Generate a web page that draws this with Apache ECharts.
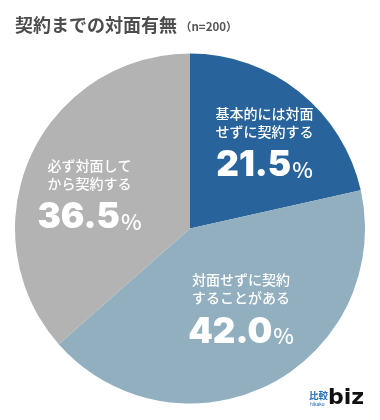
<!DOCTYPE html>
<html><head><meta charset="utf-8">
<script src="https://cdn.jsdelivr.net/npm/echarts@6/dist/echarts.min.js"></script>
<style>html,body{margin:0;padding:0;background:#fff}#c{width:380px;height:420px}</style>
</head><body><div id="c"></div>
<script>
const titleText = '契約までの対面有無';
const subText = '（n=200）';
const categories = ['基本的には対面\nせずに契約する', '対面せずに契約\nすることがある', '必ず対面して\nから契約する'];
const values = [21.5, 42.0, 36.5];
const colors = ['#28649b', '#92afc0', '#b3b3b3'];
const labelShift = [[18, -10], [10, 5], [-18, 8]];

const chart = echarts.init(document.getElementById('c'), null, {renderer: 'canvas'});
const F = '"Noto Sans CJK JP", "Noto Sans", sans-serif';
const N = 'Inter, "Noto Sans CJK JP", sans-serif';
chart.setOption({
  animation: false,
  title: {
    text: '{t|' + titleText + '}{n|' + subText + '}',
    left: 10, top: 7,
    textStyle: { rich: {
      t: { fontSize: 18, fontWeight: 'bold', color: '#4d4d4d', fontFamily: F, lineHeight: 26 },
      n: { fontSize: 11.5, fontWeight: 'bold', color: '#555', fontFamily: F, lineHeight: 26, padding: [3, 0, 0, 3] }
    }}
  },
  graphic: [
    { type: 'text', left: 309, top: 391, style: { text: '比較', fontSize: 9.5, fontWeight: 'bold', fill: '#1f6fbf', fontFamily: F } },
    { type: 'text', left: 310, top: 402, style: { text: 'hikaku', fontSize: 5, fill: '#1f6fbf', fontFamily: 'Roboto' } },
    { type: 'text', left: 328, top: 387, style: { text: 'biz', fontSize: 22, fontWeight: 'bold', fill: '#111', fontFamily: '"DejaVu Sans", sans-serif' } }
  ],
  series: [{
    type: 'pie',
    center: [190, 228.5],
    radius: [0, 175],
    startAngle: 90,
    clockwise: true,
    data: categories.map((c, i) => ({ name: c, value: values[i], itemStyle: { color: colors[i] } })),
    label: {
      position: 'inside',
      formatter: p => '{a|' + p.name + '}\n{b|' + p.value.toFixed(1) + '}{p|%}',
      color: '#fff',
      rich: {
        a: { fontSize: 14, fontWeight: 500, color: '#fff', fontFamily: F, lineHeight: 18, align: 'center' },
        b: { fontSize: 35, fontWeight: 900, color: '#fff', fontFamily: N, lineHeight: 50 },
        p: { fontSize: 22, fontWeight: 500, color: '#fff', fontFamily: F, lineHeight: 50, padding: [8, 0, 0, 1] }
      }
    },
    labelLayout: params => ({ dx: labelShift[params.dataIndex][0], dy: labelShift[params.dataIndex][1] }),
    labelLine: { show: false },
    emphasis: { disabled: true }
  }]
});
</script></body></html>
